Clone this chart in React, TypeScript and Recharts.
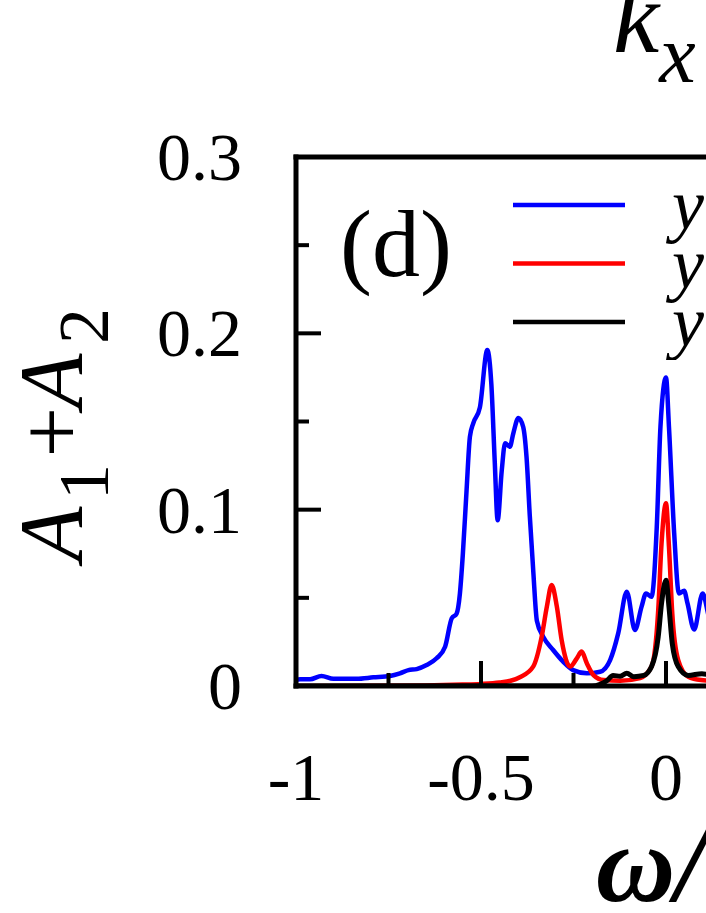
import React from 'react';
import { LineChart, Line, XAxis, YAxis, Legend } from 'recharts';

// spectral weight A1+A2 vs omega/t
const blueW = [-1, -0.989, -0.962, -0.931, -0.899, -0.836, -0.791, -0.746, -0.719, -0.696, -0.674, -0.647, -0.62, -0.597, -0.579, -0.566, -0.557, -0.549, -0.539, -0.53, -0.521, -0.503, -0.483, -0.472, -0.463, -0.455, -0.444, -0.435, -0.422, -0.413, -0.399, -0.386, -0.377, -0.368, -0.359, -0.349, -0.332, -0.305, -0.278, -0.251, -0.214, -0.178, -0.151, -0.129, -0.106, -0.084, -0.066, -0.054, -0.039, -0.025, -0.015, 0, 0.008, 0.022, 0.035, 0.049, 0.058, 0.076, 0.099, 0.115, 0.13];
const blueA = [0.0035, 0.0038, 0.0038, 0.0057, 0.0041, 0.0041, 0.0049, 0.0057, 0.0072, 0.009, 0.0096, 0.0119, 0.0157, 0.0223, 0.0384, 0.041, 0.0525, 0.075, 0.111, 0.1413, 0.149, 0.158, 0.1905, 0.171, 0.128, 0.094, 0.122, 0.1376, 0.1357, 0.143, 0.152, 0.147, 0.13, 0.096, 0.066, 0.037, 0.028, 0.0204, 0.0138, 0.009, 0.0072, 0.0081, 0.0147, 0.03, 0.0535, 0.0317, 0.045, 0.0525, 0.0506, 0.09, 0.147, 0.175, 0.147, 0.087, 0.0525, 0.054, 0.047, 0.032, 0.0525, 0.04, 0.03];

const redW = [-1, -0.8, -0.65, -0.55, -0.5, -0.45, -0.42, -0.395, -0.359, -0.336, -0.322, -0.309, -0.295, -0.282, -0.259, -0.241, -0.228, -0.214, -0.196, -0.169, -0.124, -0.07, -0.039, -0.021, -0.012, 0, 0.008, 0.017, 0.033, 0.06, 0.095, 0.13];
const redA = [0, 0.0001, 0.0003, 0.0008, 0.0012, 0.002, 0.003, 0.005, 0.011, 0.028, 0.045, 0.0573, 0.045, 0.026, 0.011, 0.0157, 0.0195, 0.0129, 0.0062, 0.0034, 0.003, 0.0045, 0.011, 0.043, 0.081, 0.1036, 0.079, 0.041, 0.0147, 0.0053, 0.0034, 0.003];

const blackW = [-1, -0.5, -0.2, -0.178, -0.16, -0.143, -0.124, -0.106, -0.087, -0.06, -0.039, -0.021, -0.012, 0, 0.008, 0.017, 0.033, 0.06, 0.097, 0.13];
const blackA = [0, 0, 0, 0.001, 0.003, 0.006, 0.0055, 0.0073, 0.0053, 0.006, 0.011, 0.028, 0.047, 0.06, 0.045, 0.024, 0.011, 0.006, 0.007, 0.005];

const xTicks = [-1, -0.75, -0.5, -0.25, 0, 0.25, 0.5, 0.75, 1];
const xMajor = [-1, -0.5, 0, 0.5, 1];
const yTicks = [0, 0.05, 0.1, 0.15, 0.2, 0.25, 0.3];
const yMajor = [0, 0.1, 0.2, 0.3];

// pieces of the rotated y label "A1+A2": text, centre along the axis, subscript?
const yLabelParts = [
  { t: 'A', c: 534, sub: false, it: true },
  { t: '1', c: 482, sub: true, it: false },
  { t: '+', c: 432, sub: false, it: false },
  { t: 'A', c: 381, sub: false, it: true },
  { t: '2', c: 326, sub: true, it: false },
];

const series = [
  { key: 'blue', name: 'y', color: '#0000ff', width: 4.5, w: blueW, a: blueA },
  { key: 'red', name: 'y', color: '#ff0000', width: 4.5, w: redW, a: redA },
  { key: 'black', name: 'y', color: '#000000', width: 5, w: blackW, a: blackA },
];

const FONT = '"Liberation Serif", "Times New Roman", serif';

const toRows = (w: number[], a: number[]) => w.map((v, i) => ({ w: v, a: a[i] }));

const BottomTick = (props: any) => {
  const { x, y, payload } = props;
  const major = xMajor.includes(payload.value);
  const axisY = y - 10;
  return (
    <g>
      <line x1={x} x2={x} y1={axisY} y2={axisY - (major ? 25 : 13)} stroke="#000" strokeWidth={4} />
      {major && (
        <text x={x} y={axisY + 114} textAnchor="middle" fontFamily={FONT} fontSize={68} fill="#000">
          {String(payload.value)}
        </text>
      )}
    </g>
  );
};

const TopTick = (props: any) => {
  const { x, y, payload } = props;
  const major = xMajor.includes(payload.value);
  return <line x1={x} x2={x} y1={y} y2={y + (major ? 25 : 13)} stroke="#000" strokeWidth={4} />;
};

const LeftTick = (props: any) => {
  const { x, y, payload } = props;
  const major = yMajor.includes(payload.value);
  const axisX = x + 54;
  return (
    <g>
      <line x1={axisX} x2={axisX + (major ? 25 : 13)} y1={y} y2={y} stroke="#000" strokeWidth={4} />
      {major && (
        <text x={x} y={y + 23} textAnchor="end" fontFamily={FONT} fontSize={68} fill="#000">
          {String(payload.value)}
        </text>
      )}
    </g>
  );
};

const renderLegend = () => (
  <svg width={300} height={190}>
    {series.map((s, i) => (
      <g key={s.key}>
        <line x1={13} x2={125} y1={35 + i * 58.5} y2={35 + i * 58.5} stroke={s.color} strokeWidth={4.5} />
        <text x={172} y={59 + i * 58.5} fontFamily={FONT} fontStyle="italic" fontSize={72} fill="#000">
          {s.name}
        </text>
      </g>
    ))}
  </svg>
);

const axisLine = { stroke: '#000', strokeWidth: 5, strokeLinecap: 'square' as const };

export default function App() {
  return (
    <div style={{ position: 'fixed', left: 0, top: 0, width: 706, height: 913, overflow: 'hidden', background: '#fff' }}>
      <LineChart width={1060} height={913} margin={{ top: 156, right: 24, bottom: 167, left: 216 }}>
        <XAxis
          xAxisId="b"
          type="number"
          dataKey="w"
          domain={[-1, 1]}
          ticks={xTicks}
          interval={0}
          tickSize={0}
          tickMargin={10}
          tick={BottomTick}
          axisLine={axisLine}
          height={60}
          allowDataOverflow
          label={() => (
            <text x={666} y={901} textAnchor="middle" fontFamily={FONT} fontStyle="italic" fontWeight="bold" fontSize={110} fill="#000">
              ω/t
            </text>
          )}
        />
        <XAxis
          xAxisId="t"
          orientation="top"
          type="number"
          domain={[-1, 1]}
          ticks={xTicks}
          interval={0}
          tickSize={0}
          tickMargin={0}
          tick={TopTick}
          axisLine={axisLine}
          height={1}
          allowDataOverflow
          label={() => (
            <g>
              <text x={613} y={52} fontFamily={FONT} fontStyle="italic" fontSize={104} fill="#000">
                k<tspan fontSize={82} dy={30}>x</tspan>
              </text>
              <text x={340} y={276} fontFamily={FONT} fontSize={96} fill="#000">(d)</text>
            </g>
          )}
        />
        <YAxis
          yAxisId="l"
          type="number"
          domain={[0, 0.3]}
          ticks={yTicks}
          interval={0}
          tickSize={0}
          tickMargin={54}
          tick={LeftTick}
          axisLine={axisLine}
          width={80}
          allowDataOverflow
          label={() => (
            <g>
              {yLabelParts.map((p, i) => (
                <text
                  key={i}
                  transform={`translate(${p.sub ? 108 : 82},${p.c}) rotate(-90)`}
                  textAnchor="middle"
                  fontFamily={FONT}
                  fontStyle={p.it ? 'italic' : 'normal'}
                  fontSize={p.sub ? 72 : 90}
                  fill="#000"
                >
                  {p.t}
                </text>
              ))}
            </g>
          )}
        />
        <Legend
          layout="vertical"
          align="center"
          verticalAlign="middle"
          wrapperStyle={{ left: 500, top: 170, width: 300, height: 190 }}
          content={renderLegend}
        />
        {series.map((s) => (
          <Line
            key={s.key}
            data={toRows(s.w, s.a)}
            dataKey="a"
            name={s.name}
            xAxisId="b"
            yAxisId="l"
            type="monotone"
            stroke={s.color}
            strokeWidth={s.width}
            strokeLinejoin="round"
            dot={false}
            activeDot={false}
            isAnimationActive={false}
          />
        ))}
      </LineChart>
    </div>
  );
}
